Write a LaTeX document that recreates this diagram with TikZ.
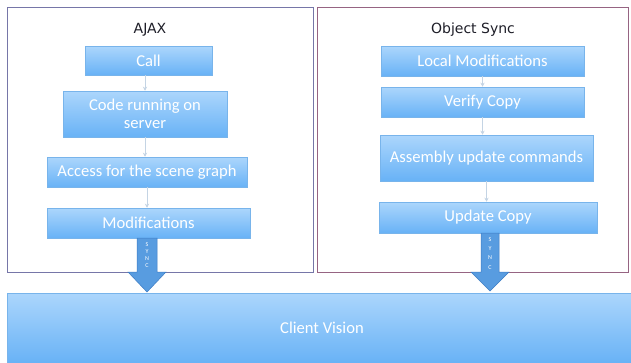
\documentclass[tikz,border=0pt]{standalone}
\usepackage{fontspec}
\setmainfont{Carlito}
\newfontfamily\titlefont{DejaVu Sans}
\usetikzlibrary{arrows.meta,calc}
\definecolor{boxtop}{RGB}{172,214,252}
\definecolor{boxbot}{RGB}{104,178,246}
\definecolor{boxedge}{RGB}{120,180,235}
\definecolor{leftedge}{RGB}{118,118,168}
\definecolor{rightedge}{RGB}{150,100,130}
\definecolor{syncfill}{RGB}{88,156,224}
\definecolor{syncedge}{RGB}{60,124,196}
\definecolor{connc}{RGB}{196,212,228}
\definecolor{titlec}{RGB}{30,30,40}
\begin{document}
\begin{tikzpicture}[x=1pt,y=1pt,
  stepbox/.style={rectangle, draw=boxedge, line width=0.5pt, top color=boxtop, bottom color=boxbot,
    text=white, font=\fontsize{16.6}{18.5}\selectfont, align=center, inner sep=0pt},
  panel/.style={rectangle, fill=white, line width=1pt},
  conn/.style={draw=connc, line width=0.8pt, -{Stealth[length=4pt,width=4pt]}},
  title/.style={font=\titlefont\fontsize{14}{16}\selectfont, text=titlec},
  syncarrow/.style={fill=syncfill, draw=syncedge, line width=0.5pt},
  synctext/.style={font=\fontsize{6}{6}\selectfont, text=white, inner sep=0pt}
]
\useasboundingbox (0,0) rectangle (631,-362);
\fill[white] (0,0) rectangle (631,-362);
% panels
\node[panel, draw=leftedge, minimum width=306pt, minimum height=265pt] (lpanel) at (160,-139.5) {};
\node[panel, draw=rightedge, minimum width=311pt, minimum height=265pt] (rpanel) at (472.5,-139.5) {};
% titles
\node[title] (ajax) at (150,-30) {AJAX};
\node[title] (osync) at (473,-30) {Object Sync};
% client vision
\node[rectangle, draw=boxedge, line width=0.5pt, top color=boxtop, bottom color=boxbot,
  minimum width=630pt, minimum height=70pt, text=white, font=\fontsize{16.6}{18.5}\selectfont, inner sep=0pt]
  (client) at (322,-328) {Client Vision};
% left boxes
\node[stepbox, minimum width=127pt, minimum height=29pt] (call) at (148.5,-60.5) {Call};
\node[stepbox, minimum width=164pt, minimum height=46pt] (code) at (145,-114) {Code running on\\server};
\node[stepbox, minimum width=200pt, minimum height=30pt] (access) at (147,-172) {Access for the scene graph};
\node[stepbox, minimum width=203pt, minimum height=30pt] (mods) at (148.5,-223) {Modifications};
% right boxes
\node[stepbox, minimum width=203pt, minimum height=30pt] (local) at (482.5,-61) {Local Modifications};
\node[stepbox, minimum width=203pt, minimum height=30pt] (verify) at (482.5,-102) {Verify Copy};
\node[stepbox, minimum width=213pt, minimum height=46pt] (assembly) at (486.5,-158) {Assembly update commands};
\node[stepbox, minimum width=218pt, minimum height=31pt] (update) at (488,-217.5) {Update Copy};
% small connectors
\draw[conn] (call.south -| code.north) -- (code.north);
\draw[conn] (code.south) -- (code.south |- access.north);
\draw[conn] (access.south) -- (access.south |- mods.north);
\draw[conn] (local.south) -- (verify.north);
\draw[conn] (verify.south) -- (verify.south |- assembly.north);
\draw[conn] (assembly.south) -- (assembly.south |- update.north);
% sync arrows
\coordinate (ltip) at (147,-292);
\draw[syncarrow] (137,-238) -- (157,-238) -- (157,-272) -- (166,-272) -- (ltip) -- (128,-272) -- (137,-272) -- cycle;
\coordinate (rtip) at (490,-291);
\draw[syncarrow] (481,-233) -- (499,-233) -- (499,-272) -- (509,-272) -- (rtip) -- (471,-272) -- (481,-272) -- cycle;
\node[synctext] (ls) at (147,-245) {S};
\node[synctext] (ly) at (147,-252) {Y};
\node[synctext] (ln) at (147,-259) {N};
\node[synctext] (lc) at (147,-266) {C};
\node[synctext] (rs) at (490,-240) {S};
\node[synctext] (ry) at (490,-249) {Y};
\node[synctext] (rn) at (490,-258) {N};
\node[synctext] (rc) at (490,-268) {C};
\end{tikzpicture}
\end{document}
